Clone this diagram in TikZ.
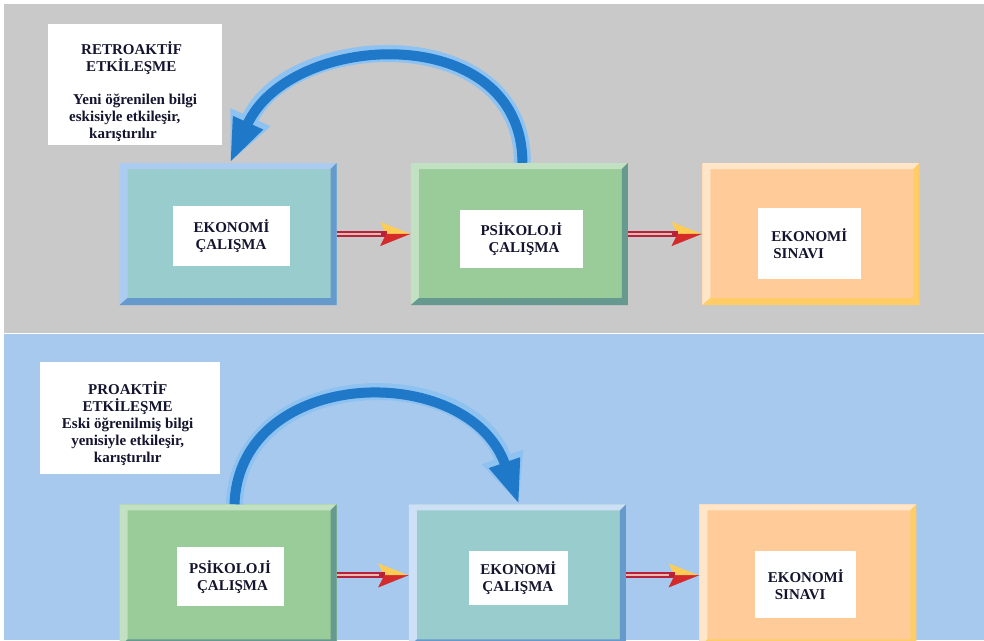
\documentclass[tikz,border=0pt]{standalone}
\usepackage{fontspec}
\setmainfont{Liberation Serif}
\usetikzlibrary{arrows.meta, positioning, calc}

\definecolor{panelgray}{HTML}{C9C9C9}
\definecolor{panelblue}{HTML}{A7C9EE}
\definecolor{ecoface}{HTML}{99CCCC}
\definecolor{ecolight}{HTML}{ABCBF0}
\definecolor{ecodark}{HTML}{6699CC}
\definecolor{psyface}{HTML}{99CC99}
\definecolor{psylight}{HTML}{C2E0C2}
\definecolor{psydark}{HTML}{66998F}
\definecolor{examface}{HTML}{FFCC99}
\definecolor{examlight}{HTML}{FFE6C8}
\definecolor{examdark}{HTML}{FFCC66}
\definecolor{loopblue}{HTML}{1F78C8}
\definecolor{looplight}{HTML}{8EC2F0}
\definecolor{shaftred}{HTML}{B8203C}
\definecolor{shaftpink}{HTML}{E8B8B0}
\definecolor{headred}{HTML}{D42A2A}
\definecolor{headyellow}{HTML}{FFCC55}
\definecolor{inkblue}{HTML}{14142E}

\begin{document}
\begin{tikzpicture}[x=1pt, y=-1pt, >=Stealth, line join=round]
	
	%======================
	% STYLES
	%======================
	\def\pb{path picture bounding box}
	\tikzset{
		bevelbox/.style n args={3}{minimum width=217pt, minimum height=142pt, inner sep=0pt, fill=#1,
			path picture={
				\fill[#2] (\pb.south west) -- (\pb.north west) -- (\pb.north east)
				-- ($(\pb.north east)+(-6pt,-6pt)$) -- ($(\pb.north west)+(8pt,-6pt)$)
				-- ($(\pb.south west)+(8pt,7pt)$) -- cycle;
				\fill[#3] (\pb.north east) -- (\pb.south east) -- (\pb.south west)
				-- ($(\pb.south west)+(8pt,7pt)$) -- ($(\pb.south east)+(-6pt,7pt)$)
				-- ($(\pb.north east)+(-6pt,-6pt)$) -- cycle;
		}},
		tag/.style={fill=white, inner sep=0pt, align=left, text=inkblue,
			font=\fontsize{15}{17}\selectfont\bfseries},
		note/.style={fill=white, inner sep=0pt, minimum width=174pt, minimum height=121pt},
		notetext/.style={inner sep=0pt, text=inkblue, font=\fontsize{15}{16.8}\selectfont\bfseries},
		flowtop/.style={line width=6pt, draw=shaftred,
			-{Stealth[length=30pt, width=24pt, inset=6pt, harpoon, fill=headyellow, color=headyellow, line width=0.4pt]}},
		flow/.style={line width=6pt, draw=shaftred,
			-{Stealth[length=30pt, width=24pt, inset=6pt, harpoon, swap, fill=headred, color=headred, line width=0.4pt]},
			postaction={draw=shaftpink, line width=2pt, -, shorten >=30pt}},
		loopouter/.style={line width=17pt, draw=looplight, -{Triangle[length=50pt, width=40pt]}},
		loopinner/.style={line width=10pt, draw=loopblue, -{Triangle[length=44pt, width=30pt]}}
	}
	
	\useasboundingbox (0,0) rectangle (984,640);
	\clip (0,0) rectangle (984,640);
	
	% backgrounds
	\fill[panelgray] (4,4) rectangle (984,333);
	\fill[panelblue] (4,334) rectangle (984,640);
	
	%======================
	% PANEL 1: retroactive
	%======================
	\node[bevelbox={ecoface}{ecolight}{ecodark}] (ecoA) at (228,234) {};
	\node[bevelbox={psyface}{psylight}{psydark}, right=74pt of ecoA] (psyA) {};
	\node[bevelbox={examface}{examlight}{examdark}, right=74pt of psyA] (examA) {};
	
	\node[tag, minimum width=117pt, minimum height=60pt] (ecoAtag)
	at ([xshift=3.5pt, yshift=-2pt]ecoA.center) {EKONOMİ\\\hspace*{2pt}ÇALIŞMA};
	\node[tag, minimum width=123pt, minimum height=58pt] (psyAtag)
	at ([xshift=2pt, yshift=-5pt]psyA.center) {PSİKOLOJİ\\\hspace*{8pt}ÇALIŞMA};
	\node[tag, minimum width=103pt, minimum height=71pt] (examAtag)
	at ([xshift=-1.5pt, yshift=-9.5pt]examA.center) {EKONOMİ\\\hspace*{2pt}SINAVI};
	
	\draw[flowtop] (ecoA.east) -- (psyA.west);
	\draw[flow] (ecoA.east) -- (psyA.west);
	\draw[flowtop] (psyA.east) -- (examA.west);
	\draw[flow] (psyA.east) -- (examA.west);
	
	% curved arrow back to the first study
	\draw[loopouter] ([xshift=3pt]psyA.north) .. controls +(0,-143) and +(60,-133) .. ([xshift=2pt]ecoA.north);
	\draw[loopinner] ([xshift=3pt]psyA.north) .. controls +(0,-143) and +(60,-133) .. ([xshift=2pt]ecoA.north);
	
	\node[note, anchor=north west] (retro) at (48,24) {};
	\node[notetext, align=left] (retroText) at ([xshift=-2pt, yshift=-7pt]retro.center)
	{\hspace*{12pt}RETROAKTİF\\
		\hspace*{17pt}ETKİLEŞME\\[16.8pt]
		\hspace*{4pt}Yeni öğrenilen bilgi\\
		eskisiyle etkileşir,\\
		\hspace*{20pt}karıştırılır};
	
	%======================
	% PANEL 2: proactive
	%======================
	\node[bevelbox={psyface}{psylight}{psydark}, below=199pt of ecoA] (psyB) {};
	\node[bevelbox={ecoface}{ecolight!60!white}{ecodark}, right=72pt of psyB] (ecoB) {};
	\node[bevelbox={examface}{examlight}{examdark}, right=73pt of ecoB] (examB) {};
	
	\node[tag, minimum width=107pt, minimum height=59pt] (psyBtag)
	at ([xshift=2pt, yshift=-1.5pt]psyB.center) {PSİKOLOJİ\\\hspace*{8pt}ÇALIŞMA};
	\node[tag, minimum width=99pt, minimum height=54pt] (ecoBtag)
	at ([xshift=1pt, yshift=-3pt]ecoB.center) {EKONOMİ\\\hspace*{2pt}ÇALIŞMA};
	\node[tag, minimum width=101pt, minimum height=67pt] (examBtag)
	at ([xshift=-2pt, yshift=-9.5pt]examB.center) {EKONOMİ\\\hspace*{7pt}SINAVI};
	
	\draw[flowtop] (psyB.east) -- (ecoB.west);
	\draw[flow] (psyB.east) -- (ecoB.west);
	\draw[flowtop] (ecoB.east) -- (examB.west);
	\draw[flow] (ecoB.east) -- (examB.west);
	
	% curved arrow forward to the new study
	\draw[loopouter] ([xshift=6.5pt]psyB.north) .. controls +(5,-139) and +(-50,-144) .. ([xshift=1.5pt]ecoB.north);
	\draw[loopinner] ([xshift=6.5pt]psyB.north) .. controls +(5,-139) and +(-50,-144) .. ([xshift=1.5pt]ecoB.north);
	
	\node[note, minimum width=180pt, minimum height=112pt, anchor=north west] (pro) at (40,362) {};
	\node[notetext, align=center] (proText) at ([xshift=-2.5pt, yshift=-5.5pt]pro.center)
	{PROAKTİF\\ETKİLEŞME\\Eski öğrenilmiş bilgi\\yenisiyle etkileşir,\\karıştırılır};
	
\end{tikzpicture}
\end{document}
